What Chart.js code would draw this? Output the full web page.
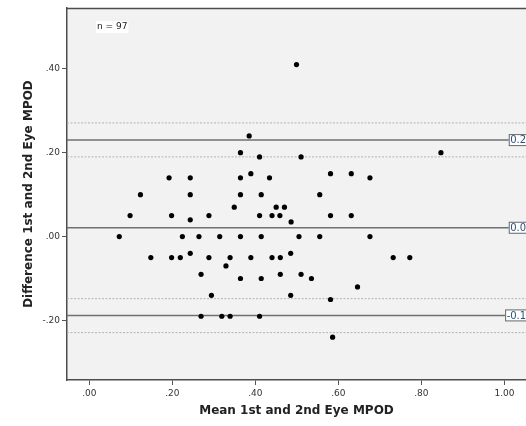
<!DOCTYPE html>
<html>
<head>
<meta charset="utf-8">
<script src="https://cdn.jsdelivr.net/npm/chart.js@4"></script>
<style>
  html, body { margin: 0; padding: 0; background: #ffffff; }
  canvas { display: block; }
</style>
</head>
<body>
<canvas id="c" width="526" height="426"></canvas>
<script>
// ---- data ----
const meanValues = [0.499,0.385,0.364,0.847,0.410,0.510,0.389,0.581,0.631,0.192,0.243,0.364,0.434,0.676,0.123,0.243,0.364,0.414,0.555,0.349,0.450,0.470,0.098,0.198,0.288,0.410,0.440,0.459,0.581,0.631,0.243,0.486,0.072,0.224,0.264,0.314,0.364,0.414,0.505,0.555,0.676,0.243,0.485,0.148,0.198,0.219,0.288,0.339,0.389,0.440,0.460,0.732,0.772,0.329,0.269,0.460,0.510,0.364,0.414,0.535,0.646,0.294,0.485,0.581,0.269,0.319,0.339,0.410,0.586];
const diffValues = [0.41,0.24,0.20,0.20,0.19,0.19,0.15,0.15,0.15,0.14,0.14,0.14,0.14,0.14,0.10,0.10,0.10,0.10,0.10,0.07,0.07,0.07,0.05,0.05,0.05,0.05,0.05,0.05,0.05,0.05,0.04,0.035,0.00,0.00,0.00,0.00,0.00,0.00,0.00,0.00,0.00,-0.04,-0.04,-0.05,-0.05,-0.05,-0.05,-0.05,-0.05,-0.05,-0.05,-0.05,-0.05,-0.07,-0.09,-0.09,-0.09,-0.10,-0.10,-0.10,-0.12,-0.14,-0.14,-0.15,-0.19,-0.19,-0.19,-0.19,-0.24];
const refLineValues = [0.230, 0.021, -0.188];          // upper LoA, mean, lower LoA
const refLineLabels = ['0.23', '0.02', '-0.19'];
const ciLineValues = [0.271, 0.190, -0.148, -0.229];   // confidence limits of LoA
const xTickValues = [0, 0.2, 0.4, 0.6, 0.8, 1.0];
const xTickLabels = ['.00', '.20', '.40', '.60', '.80', '1.00'];
const yTickValues = [-0.2, 0, 0.2, 0.4];
const yTickLabels = ['-.20', '.00', '.20', '.40'];
const nLabel = 'n = 97';
const xTitle = 'Mean 1st and 2nd Eye MPOD';
const yTitle = 'Difference 1st and 2nd Eye MPOD';

const X_MIN = -0.054, X_MAX = 1.052, Y_MIN = -0.342, Y_MAX = 0.545;

const points = meanValues.map((x, i) => ({ x: x, y: diffValues[i] }));
const hLine = v => [{ x: X_MIN, y: v }, { x: X_MAX, y: v }];

const datasets = [{
  type: 'scatter',
  data: points,
  pointRadius: 2.6,
  pointBackgroundColor: '#000',
  pointBorderWidth: 0,
  order: 1
}];
ciLineValues.forEach(v => datasets.push({
  type: 'line', data: hLine(v), borderColor: '#b4b4b4', borderWidth: 1,
  borderDash: [2, 1.5], pointRadius: 0, order: 3
}));
refLineValues.forEach(v => datasets.push({
  type: 'line', data: hLine(v), borderColor: '#707070', borderWidth: 1.5,
  pointRadius: 0, order: 2
}));

const decor = {
  id: 'decor',
  beforeDraw(chart) {
    const { ctx, chartArea: a } = chart;
    ctx.save();
    ctx.fillStyle = '#ffffff';
    ctx.fillRect(0, 0, chart.width, chart.height);
    ctx.fillStyle = '#f2f2f2';
    ctx.fillRect(a.left, a.top, a.right - a.left, a.bottom - a.top);
    ctx.restore();
  },
  afterDatasetsDraw(chart) {
    const { ctx, chartArea: a, scales } = chart;
    ctx.save();
    // top frame line
    ctx.strokeStyle = '#4d4d4d';
    ctx.lineWidth = 1.5;
    ctx.beginPath();
    ctx.moveTo(a.left, a.top + 0.5);
    ctx.lineTo(a.right, a.top + 0.5);
    ctx.stroke();
    // reference line labels (boxed, clipped at right edge)
    ctx.font = '10px "DejaVu Sans"';
    ctx.textBaseline = 'middle';
    refLineValues.forEach((v, i) => {
      const y = scales.y.getPixelForValue(v);
      const t = refLineLabels[i];
      const w = ctx.measureText(t).width + 3;
      const left = chart.width + 8 - w;
      ctx.fillStyle = '#ffffff';
      ctx.fillRect(left, y - 5.5, w, 11);
      ctx.strokeStyle = '#666';
      ctx.lineWidth = 1;
      ctx.strokeRect(left + 0.5, y - 5.5, w, 11);
      ctx.fillStyle = '#2f4f7f';
      ctx.textAlign = 'left';
      ctx.fillText(t, left + 1.5, y + 0.5);
    });
    // n label
    ctx.font = '9px "DejaVu Sans"';
    const nw = ctx.measureText(nLabel).width;
    const nx = a.left + 30, ny = a.top + 19;
    ctx.fillStyle = '#ffffff';
    ctx.fillRect(nx - 1, ny - 6, nw + 2, 12);
    ctx.fillStyle = '#222';
    ctx.textAlign = 'left';
    ctx.fillText(nLabel, nx, ny);
    ctx.restore();
  }
};

new Chart(document.getElementById('c'), {
  type: 'scatter',
  data: { datasets: datasets },
  plugins: [decor],
  options: {
    responsive: false,
    devicePixelRatio: 1,
    animation: false,
    layout: { autoPadding: false, padding: { top: 8, right: 0, left: 0, bottom: 0 } },
    plugins: { legend: { display: false }, tooltip: { enabled: false } },
    scales: {
      x: {
        type: 'linear', min: X_MIN, max: X_MAX,
        afterBuildTicks: s => { s.ticks = xTickValues.map(v => ({ value: v })); },
        afterFit: s => { s.height = 46; s.paddingRight = 0; s.paddingLeft = 0; },
        ticks: {
          callback: (v, i) => xTickLabels[i],
          font: { family: 'DejaVu Sans', size: 9 }, color: '#333', padding: 3, maxRotation: 0
        },
        grid: { drawOnChartArea: false, drawTicks: true, tickLength: 5, color: '#555', lineWidth: 1 },
        border: { display: true, color: '#4d4d4d', width: 1.5 },
        title: {
          display: true, text: xTitle, color: '#222',
          font: { family: 'DejaVu Sans', size: 12, weight: 'bold' },
          padding: { top: 0, bottom: 8 }
        }
      },
      y: {
        type: 'linear', min: Y_MIN, max: Y_MAX,
        afterBuildTicks: s => { s.ticks = yTickValues.map(v => ({ value: v })); },
        afterFit: s => { s.width = 67; s.paddingTop = 0; s.paddingBottom = 0; },
        ticks: {
          callback: (v, i) => yTickLabels[i],
          font: { family: 'DejaVu Sans', size: 9 }, color: '#333', padding: 2
        },
        grid: { drawOnChartArea: false, drawTicks: true, tickLength: 5, color: '#555', lineWidth: 1 },
        border: { display: true, color: '#4d4d4d', width: 1.5 },
        title: {
          display: true, text: yTitle, color: '#222',
          font: { family: 'DejaVu Sans', size: 12, weight: 'bold' },
          padding: { top: 22, bottom: 0 }
        }
      }
    }
  }
});
</script>
</body>
</html>
